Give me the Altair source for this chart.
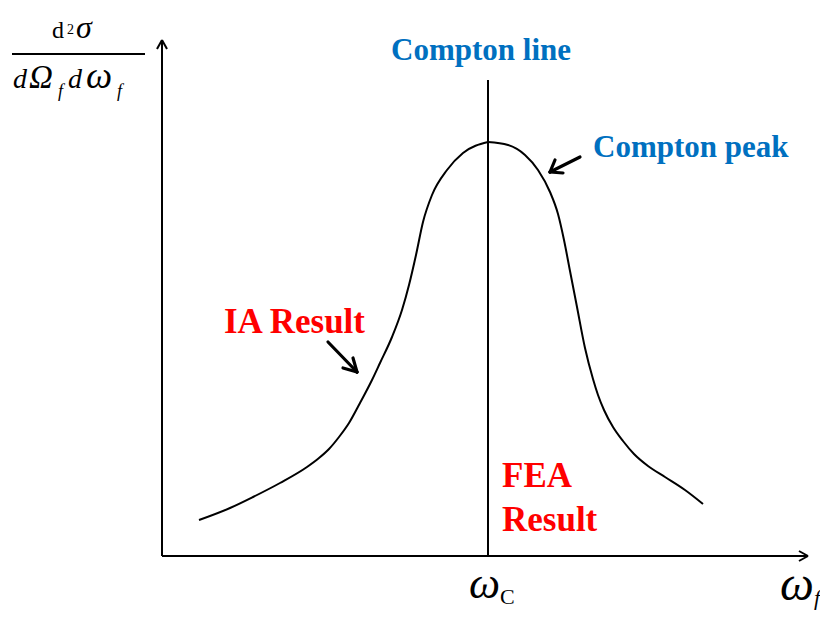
import altair as alt
import pandas as pd

# Curve (omega_f, d2sigma), arbitrary units, origin at axis corner
# left flank up to the peak on the Compton line, right flank from the peak
omega_left = [37, 68, 91, 118, 145, 157, 167, 177, 187, 198, 210, 218, 230, 240, 247, 254, 261, 270, 285, 301, 326]
int_left = [36, 48, 59, 73, 89, 98, 107, 119, 133, 153, 176, 193, 219, 246, 271, 301, 334, 361, 386, 403, 414]
omega_right = [326, 346, 363, 376, 388, 396, 402, 408, 415, 423, 431, 436, 442, 451, 461, 472, 486, 503, 523, 541]
int_right = [414, 411, 401, 386, 364, 342, 316, 285, 249, 208, 177, 161, 146, 129, 115, 102, 90, 79, 66, 52]

# Compton line position and plot frame
compton_x = 326
x_end, y_end = 646, 516
line_top = 476

# thin segments: axes, arrowheads of the axes, Compton line, fraction bar
thin_x  = [0, 0, x_end, x_end, 0, 0, compton_x, -150]
thin_y  = [0, 0, 0, 0, y_end, y_end, 0, 502]
thin_x2 = [x_end, 0, x_end - 9, x_end - 9, -5, 5, compton_x, -17]
thin_y2 = [0, y_end, 5, -5, y_end - 9, y_end - 9, line_top, 502]

# thick annotation arrows (shaft + two head strokes each)
arr_x  = [166, 195, 195, 418, 388, 388]
arr_y  = [214, 184, 184, 399, 384, 384]
arr_x2 = [195, 181, 191, 388, 393, 401]
arr_y2 = [184, 188, 198, 384, 396, 383]

# bold annotations
blue_text = ["Compton line", "Compton peak"]
blue_x = [319, 431]
blue_y = [496, 399]
red_text = ["IA Result", "FEA", "Result"]
red_x = [62, 340, 340]
red_y = [223, 69, 25]

SERIF = "Liberation Serif"

xs = alt.Scale(domain=[-154, 658])
ys = alt.Scale(domain=[-55, 548])

def X(f="x"):
    return alt.X(f"{f}:Q", scale=xs, axis=None)

def Y(f="y"):
    return alt.Y(f"{f}:Q", scale=ys, axis=None)

curve_df = pd.concat([
    pd.DataFrame({"x": omega_left, "y": int_left, "side": "left", "i": range(len(omega_left))}),
    pd.DataFrame({"x": omega_right, "y": int_right, "side": "right", "i": range(len(omega_right))}),
])
curve = alt.Chart(curve_df).mark_line(
    color="black", strokeWidth=2, interpolate="monotone"
).encode(x=X(), y=Y(), detail="side:N", order="i:Q")

thin = alt.Chart(pd.DataFrame({"x": thin_x, "y": thin_y, "x2": thin_x2, "y2": thin_y2})).mark_rule(
    color="black", strokeWidth=2
).encode(x=X(), y=Y(), x2="x2:Q", y2="y2:Q")

thick = alt.Chart(pd.DataFrame({"x": arr_x, "y": arr_y, "x2": arr_x2, "y2": arr_y2})).mark_rule(
    color="black", strokeWidth=3.2, strokeCap="round"
).encode(x=X(), y=Y(), x2="x2:Q", y2="y2:Q")

blue1 = alt.Chart(pd.DataFrame({"t": blue_text[:1], "x": blue_x[:1], "y": blue_y[:1]})).mark_text(
    font=SERIF, fontWeight="bold", fontSize=31, color="#0070C0",
    align="center", baseline="alphabetic"
).encode(x=X(), y=Y(), text="t:N")
blue2 = alt.Chart(pd.DataFrame({"t": blue_text[1:], "x": blue_x[1:], "y": blue_y[1:]})).mark_text(
    font=SERIF, fontWeight="bold", fontSize=31, color="#0070C0",
    align="left", baseline="alphabetic"
).encode(x=X(), y=Y(), text="t:N")

red = alt.Chart(pd.DataFrame({"t": red_text, "x": red_x, "y": red_y})).mark_text(
    font=SERIF, fontWeight="bold", fontSize=35, color="#FF0000",
    align="left", baseline="alphabetic"
).encode(x=X(), y=Y(), text="t:N")

# math labels, split by style
def txt(df, size, style="normal"):
    return alt.Chart(df).mark_text(
        font=SERIF, fontSize=size, fontStyle=style, color="black",
        align="left", baseline="alphabetic"
    ).encode(x=X(), y=Y(), text="t:N")

num_d = txt(pd.DataFrame({"t": ["d"], "x": [-110], "y": [518]}), 24)
num_2 = txt(pd.DataFrame({"t": ["2"], "x": [-95], "y": [522]}), 14)
num_s = txt(pd.DataFrame({"t": ["σ"], "x": [-86], "y": [518]}), 32, "italic")
den_d = txt(pd.DataFrame({"t": ["d", "d"], "x": [-149, -94], "y": [468, 468]}), 28, "italic")
den_w = txt(pd.DataFrame({"t": ["ω"], "x": [-76], "y": [468]}), 37, "italic")
den_omega = txt(pd.DataFrame({"t": ["Ω"], "x": [-133], "y": [468]}), 33, "italic")
den_sub = txt(pd.DataFrame({"t": ["f", "f"], "x": [-104, -45], "y": [459, 459]}), 18, "italic")

wc = txt(pd.DataFrame({"t": ["ω"], "x": [307], "y": [-42]}), 44, "italic")
wc_sub = txt(pd.DataFrame({"t": ["C"], "x": [338], "y": [-48]}), 22)
wf = txt(pd.DataFrame({"t": ["ω"], "x": [618], "y": [-44]}), 48, "italic")
wf_sub = txt(pd.DataFrame({"t": ["f"], "x": [652], "y": [-49]}), 22, "italic")

chart = alt.layer(
    thin, curve, thick, blue1, blue2, red,
    num_d, num_2, num_s, den_d, den_w, den_omega, den_sub,
    wc, wc_sub, wf, wf_sub
).properties(
    width=812, height=603, padding=0,
    autosize=alt.AutoSizeParams(type="none")
).configure_view(stroke="transparent", strokeWidth=0)

chart.save("out.html", embed_options={"renderer": "svg", "actions": False})
